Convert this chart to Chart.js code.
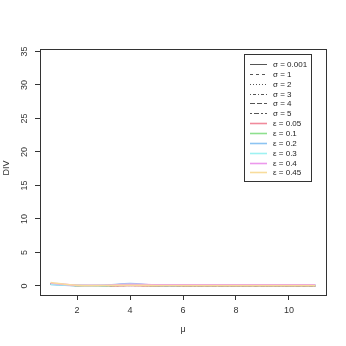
<!DOCTYPE html>
<html>
<head>
<meta charset="utf-8">
<script src="https://cdn.jsdelivr.net/npm/chart.js@4.4.0/dist/chart.umd.min.js"></script>
<style>
  html, body { margin: 0; padding: 0; background: #fff; }
  #wrap { width: 346px; height: 346px; }
</style>
</head>
<body>
<div id="wrap"><canvas id="chart" width="346" height="346"></canvas></div>
<script>
// values
const mu = [1, 2, 3, 4, 5, 6, 7, 8, 9, 10, 11];
const xTicks = [2, 4, 6, 8, 10];
const yTicks = [0, 5, 10, 15, 20, 25, 30, 35];

const sigmaLabels = ['σ = 0.001', 'σ = 1', 'σ = 2', 'σ = 3', 'σ = 4', 'σ = 5'];
// the sigma curves sit under the coloured ones in the reference
const sigma0001 = [0.3, 0.03, 0.02, 0.05, 0.03, 0.03, 0.03, 0.03, 0.03, 0.03, 0.03];
const sigma1 = [0.3, 0.03, 0.02, 0.05, 0.03, 0.03, 0.03, 0.03, 0.03, 0.03, 0.03];
const sigma2 = [0.3, 0.03, 0.02, 0.05, 0.03, 0.03, 0.03, 0.03, 0.03, 0.03, 0.03];
const sigma3 = [0.3, 0.03, 0.02, 0.05, 0.03, 0.03, 0.03, 0.03, 0.03, 0.03, 0.03];
const sigma4 = [0.3, 0.03, 0.02, 0.05, 0.03, 0.03, 0.03, 0.03, 0.03, 0.03, 0.03];
const sigma5 = [0.3, 0.03, 0.02, 0.05, 0.03, 0.03, 0.03, 0.03, 0.03, 0.03, 0.03];

const epsLabels = ['ε = 0.05', 'ε = 0.1', 'ε = 0.2', 'ε = 0.3', 'ε = 0.4', 'ε = 0.45'];
const eps005 = [0.3, 0.03, 0.02, 0.05, 0.03, 0.03, 0.03, 0.03, 0.03, 0.03, 0.03];
const eps01 = [0.3, 0.05, 0.04, 0.15, 0.06, 0.06, 0.06, 0.06, 0.06, 0.06, 0.06];
const eps02 = [0.2, 0.07, 0.06, 0.35, 0.09, 0.09, 0.09, 0.09, 0.09, 0.09, 0.09];
const eps03 = [0.25, 0.07, 0.06, 0.25, 0.1, 0.1, 0.1, 0.1, 0.1, 0.1, 0.1];
const eps04 = [0.4, 0.1, 0.1, 0.22, 0.16, 0.16, 0.16, 0.16, 0.16, 0.16, 0.16];
const eps045 = [0.5, 0.08, 0.05, 0.1, 0.06, 0.06, 0.06, 0.06, 0.06, 0.06, 0.06];

const sigmaDash = [[], [3, 3], [1, 2], [1, 2, 3, 2], [5, 2], [2, 2, 5, 2]];
const epsColors = ['#f08a9c', '#8ee08e', '#8cc4f2', '#9ef2f2', '#ec98ec', '#f8dc9c'];

const FONT = '"Liberation Sans", Arial, sans-serif';

function toPoints(ys) {
  return ys.map((y, i) => ({ x: mu[i], y: y }));
}

const sigmaSeries = [sigma0001, sigma1, sigma2, sigma3, sigma4, sigma5];
const epsSeries = [eps005, eps01, eps02, eps03, eps04, eps045];

const datasets = [];
sigmaSeries.forEach((s, i) => {
  datasets.push({
    label: sigmaLabels[i],
    data: toPoints(s),
    borderColor: '#555',
    borderWidth: 1,
    borderDash: sigmaDash[i],
    pointRadius: 0,
    tension: 0.3,
    order: 20 - i
  });
});
epsSeries.forEach((s, i) => {
  datasets.push({
    label: epsLabels[i],
    data: toPoints(s),
    borderColor: epsColors[i],
    borderWidth: 1.6,
    pointRadius: 0,
    tension: 0.3,
    order: 10 - i
  });
});

// frame, rotated y labels, titles and the in-plot legend, R style
const rDecor = {
  id: 'rDecor',
  afterDraw(chart) {
    const ctx = chart.ctx;
    const a = chart.chartArea;
    const yScale = chart.scales.y;
    ctx.save();
    ctx.strokeStyle = '#333';
    ctx.lineWidth = 1;
    ctx.strokeRect(Math.round(a.left) + 0.5, Math.round(a.top) + 0.5,
      Math.round(a.right - a.left), Math.round(a.bottom - a.top));

    ctx.fillStyle = '#333';
    ctx.font = '9px ' + FONT;
    ctx.textAlign = 'center';
    ctx.textBaseline = 'middle';
    yTicks.forEach(v => {
      const py = yScale.getPixelForValue(v);
      ctx.save();
      ctx.translate(25, py);
      ctx.rotate(-Math.PI / 2);
      ctx.fillText(String(v), 0, 0);
      ctx.restore();
    });

    ctx.save();
    ctx.translate(7, (a.top + a.bottom) / 2 - 4);
    ctx.rotate(-Math.PI / 2);
    ctx.fillText('DIV', 0, 0);
    ctx.restore();
    ctx.fillText('μ', (a.left + a.right) / 2, 330);

    // legend
    const bx = 244, by = 54, bw = 67, bh = 127;
    ctx.fillStyle = '#fff';
    ctx.fillRect(bx, by, bw, bh);
    ctx.strokeStyle = '#333';
    ctx.strokeRect(bx + 0.5, by + 0.5, bw, bh);
    ctx.font = '8px ' + FONT;
    ctx.textAlign = 'left';
    chart.data.datasets.forEach((ds, i) => {
      const ly = Math.round(64 + i * 9.85);
      ctx.strokeStyle = ds.borderColor;
      ctx.lineWidth = ds.borderDash ? 1 : 1.6;
      ctx.setLineDash(ds.borderDash || []);
      ctx.beginPath();
      ctx.moveTo(250, ly + 0.5);
      ctx.lineTo(267, ly + 0.5);
      ctx.stroke();
      ctx.setLineDash([]);
      ctx.fillStyle = '#222';
      ctx.fillText(ds.label, 273, ly + 0.5);
    });
    ctx.restore();
  }
};

new Chart(document.getElementById('chart'), {
  type: 'line',
  data: { datasets: datasets },
  options: {
    responsive: false,
    animation: false,
    layout: { padding: { top: 49, right: 20, left: 0, bottom: 0 } },
    plugins: { legend: { display: false }, tooltip: { enabled: false } },
    scales: {
      x: {
        type: 'linear',
        min: 0.6,
        max: 11.4,
        afterBuildTicks: s => { s.ticks = xTicks.map(v => ({ value: v })); },
        afterFit: s => { s.height = 51; },
        grid: { display: true, drawOnChartArea: false, drawTicks: true, tickLength: 5, color: '#333' },
        border: { display: false },
        ticks: { color: '#333', font: { size: 9, family: FONT }, padding: 5, maxRotation: 0 }
      },
      y: {
        type: 'linear',
        min: -1.36,
        max: 35.36,
        afterBuildTicks: s => { s.ticks = yTicks.map(v => ({ value: v })); },
        afterFit: s => { s.width = 40; },
        grid: { display: true, drawOnChartArea: false, drawTicks: true, tickLength: 5, color: '#333' },
        border: { display: false },
        ticks: { color: 'rgba(0,0,0,0)', font: { size: 9, family: FONT } }
      }
    }
  },
  plugins: [rDecor]
});
</script>
</body>
</html>
